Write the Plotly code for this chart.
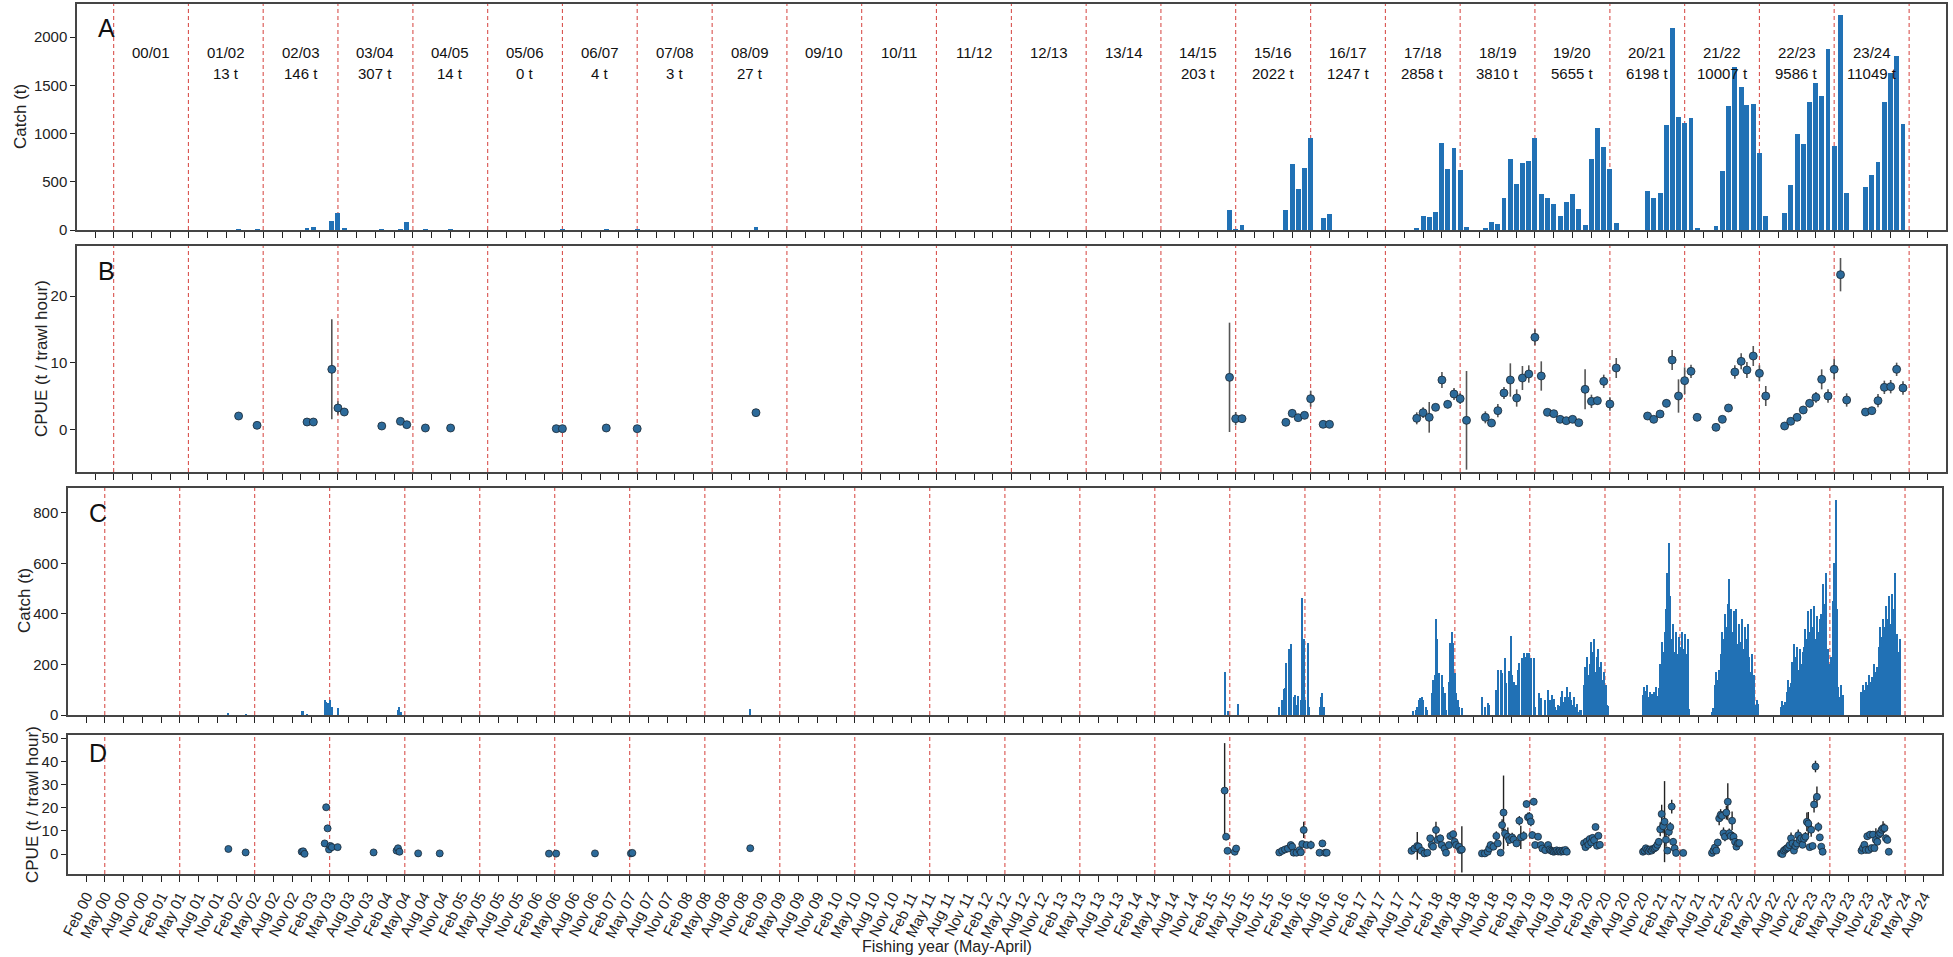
import plotly.graph_objects as go
import pandas as pd

# ---------------- Panel A: monthly catch (t) ----------------
a_month = ["2002-01-01", "2002-04-01", "2002-12-01", "2003-01-01", "2003-04-01", "2003-05-01",
           "2003-06-01", "2003-12-01", "2004-03-01", "2004-04-01", "2004-07-01", "2004-11-01",
           "2006-05-01", "2006-12-01", "2007-05-01", "2008-12-01",
           "2015-04-01", "2015-05-01", "2015-06-01",
           "2016-01-01", "2016-02-01", "2016-03-01", "2016-04-01", "2016-05-01", "2016-07-01", "2016-08-01",
           "2017-10-01", "2017-11-01", "2017-12-01", "2018-01-01", "2018-02-01", "2018-03-01", "2018-04-01",
           "2018-05-01", "2018-06-01", "2018-09-01", "2018-10-01", "2018-11-01", "2018-12-01",
           "2019-01-01", "2019-02-01", "2019-03-01", "2019-04-01", "2019-05-01", "2019-06-01",
           "2019-07-01", "2019-08-01", "2019-09-01", "2019-10-01", "2019-11-01", "2019-12-01",
           "2020-01-01", "2020-02-01", "2020-03-01", "2020-04-01", "2020-05-01", "2020-06-01",
           "2020-11-01", "2020-12-01", "2021-01-01", "2021-02-01", "2021-03-01", "2021-04-01",
           "2021-05-01", "2021-06-01", "2021-07-01", "2021-10-01", "2021-11-01", "2021-12-01",
           "2022-01-01", "2022-02-01", "2022-03-01", "2022-04-01", "2022-05-01", "2022-06-01",
           "2022-09-01", "2022-10-01", "2022-11-01", "2022-12-01", "2023-01-01", "2023-02-01",
           "2023-03-01", "2023-04-01", "2023-05-01", "2023-06-01", "2023-07-01", "2023-10-01",
           "2023-11-01", "2023-12-01", "2024-01-01", "2024-02-01", "2024-03-01", "2024-04-01"]
a_catch = [8, 5, 21, 31, 94, 180,
           22, 6, 10, 88, 8, 6,
           2, 2, 3, 27,
           204, 3, 48,
           211, 684, 421, 646, 953, 121, 166,
           21, 142, 131, 186, 901, 629, 846,
           625, 31, 17, 83, 66, 328,
           736, 480, 698, 718, 953, 373,
           335, 273, 145, 293, 373, 214,
           48, 735, 1053, 856, 635, 76,
           404, 332, 380, 1091, 2096, 1171,
           1108, 1164, 24, 38, 611, 1281,
           1692, 1478, 1292, 1305, 794, 145,
           176, 466, 991, 891, 1326, 1523,
           1388, 1875, 867, 2227, 387, 445,
           566, 704, 1326, 1627, 1806, 1101]

# fishing-year labels and totals
fy_start = list(range(2000, 2024))
fy_label = ["00/01", "01/02", "02/03", "03/04", "04/05", "05/06", "06/07", "07/08", "08/09", "09/10",
            "10/11", "11/12", "12/13", "13/14", "14/15", "15/16", "16/17", "17/18", "18/19", "19/20",
            "20/21", "21/22", "22/23", "23/24"]
fy_total = ["", "13 t", "146 t", "307 t", "14 t", "0 t", "4 t", "3 t", "27 t", "", "", "", "", "",
            "203 t", "2022 t", "1247 t", "2858 t", "3810 t", "5655 t", "6198 t", "10007 t", "9586 t", "11049 t"]

# ---------------- Panel B: monthly CPUE ----------------
b_month = ["2002-01-01", "2002-04-01", "2002-12-01", "2003-01-01", "2003-04-01", "2003-05-01",
           "2003-06-01", "2003-12-01", "2004-03-01", "2004-04-01", "2004-07-01", "2004-11-01",
           "2006-04-01", "2006-05-01", "2006-12-01", "2007-05-01", "2008-12-01",
           "2015-04-01", "2015-05-01", "2015-06-01",
           "2016-01-01", "2016-02-01", "2016-03-01", "2016-04-01", "2016-05-01", "2016-07-01", "2016-08-01",
           "2017-10-01", "2017-11-01", "2017-12-01", "2018-01-01", "2018-02-01", "2018-03-01", "2018-04-01",
           "2018-05-01", "2018-06-01", "2018-09-01", "2018-10-01", "2018-11-01", "2018-12-01",
           "2019-01-01", "2019-02-01", "2019-03-01", "2019-04-01", "2019-05-01", "2019-06-01",
           "2019-07-01", "2019-08-01", "2019-09-01", "2019-10-01", "2019-11-01", "2019-12-01",
           "2020-01-01", "2020-02-01", "2020-03-01", "2020-04-01", "2020-05-01", "2020-06-01",
           "2020-11-01", "2020-12-01", "2021-01-01", "2021-02-01", "2021-03-01", "2021-04-01",
           "2021-05-01", "2021-06-01", "2021-07-01", "2021-10-01", "2021-11-01", "2021-12-01",
           "2022-01-01", "2022-02-01", "2022-03-01", "2022-04-01", "2022-05-01", "2022-06-01",
           "2022-09-01", "2022-10-01", "2022-11-01", "2022-12-01", "2023-01-01", "2023-02-01",
           "2023-03-01", "2023-04-01", "2023-05-01", "2023-06-01", "2023-07-01", "2023-10-01",
           "2023-11-01", "2023-12-01", "2024-01-01", "2024-02-01", "2024-03-01", "2024-04-01"]
b_cpue = [2.0, 0.6, 1.1, 1.1, 9.0, 3.2,
          2.6, 0.5, 1.2, 0.7, 0.2, 0.2,
          0.1, 0.1, 0.2, 0.1, 2.5,
          7.8, 1.6, 1.6,
          1.05, 2.4, 1.75, 2.1, 4.6, 0.75, 0.75,
          1.65, 2.5, 1.8, 3.3, 7.4, 3.75, 5.3,
          4.6, 1.35, 1.8, 0.95, 2.8, 5.45,
          7.4, 4.7, 7.7, 8.3, 13.8, 8.0,
          2.55, 2.35, 1.5, 1.3, 1.5, 1.0,
          6.0, 4.2, 4.3, 7.2, 3.8, 9.2,
          2.0, 1.5, 2.3, 3.9, 10.4, 5.0,
          7.3, 8.7, 1.8, 0.3, 1.5, 3.2,
          8.6, 10.2, 8.9, 11.0, 8.4, 5.0,
          0.5, 1.2, 1.8, 2.9, 3.9, 4.8,
          7.5, 5.0, 9.0, 23.2, 4.4, 2.6,
          2.8, 4.3, 6.3, 6.4, 9.0, 6.2]
b_err = [0.2, 0.2, 0.2, 0.2, 7.5, 1.0,
         0.3, 0.2, 0.3, 0.3, 0.2, 0.2,
         0.1, 0.1, 0.1, 0.1, 0.3,
         8.2, 1.0, 0.3,
         0.3, 0.6, 0.3, 0.3, 1.2, 0.3, 0.3,
         0.9, 0.8, 2.3, 0.4, 1.2, 0.6, 0.9,
         0.8, 7.4, 0.9, 0.3, 1.0, 0.9,
         2.5, 1.3, 1.8, 1.3, 1.2, 2.2,
         0.4, 0.3, 0.3, 0.3, 0.3, 0.3,
         3.0, 1.0, 0.6, 1.0, 1.0, 1.5,
         0.4, 0.4, 0.4, 0.6, 1.5, 2.5,
         2.0, 1.0, 0.4, 0.3, 0.5, 0.6,
         1.0, 1.2, 1.2, 1.5, 1.2, 1.5,
         0.3, 0.4, 0.5, 0.6, 0.6, 0.8,
         1.5, 1.0, 1.5, 2.5, 1.0, 0.6,
         0.5, 1.0, 1.0, 1.0, 1.0, 1.0]

# ---------------- Panel C: weekly catch (t), per season ----------------
c_0102_start, c_0102 = "2001-12-24", [4, 0, 0, 0, 0, 0, 0, 0, 0, 0, 0, 0, 3]
c_0203a_start, c_0203a = "2002-12-16", [17, 17, 0, 0, 3]
c_0203b_start, c_0203b = "2003-04-07", [59, 53, 46, 10, 59, 30, 0, 0, 0, 26]
c_0304_start, c_0304 = "2004-03-29", [20, 30, 10]
c_0809_start, c_0809 = "2008-12-08", [25]
c_1415_start, c_1415 = "2015-04-06", [171, 0, 15, 0, 0, 0, 0, 0, 0, 42]
c_1516_start, c_1516 = "2015-12-28", [33, 0, 59, 104, 106, 206, 0, 260, 280, 0, 70, 80, 40, 76, 0, 60, 461, 300, 60, 0, 283, 30]
c_1617_start, c_1617 = "2016-07-11", [33, 72, 88, 33]
c_1718_start, c_1718 = "2017-10-09", [16, 0, 20, 33, 59, 66, 70, 59, 0, 33, 20, 0, 0, 86, 138, 158, 378, 299, 165, 0,
                                      158, 112, 86, 20, 0, 132, 286, 330, 283, 165, 86, 59, 33, 0, 26]
c_1819_start, c_1819 = "2018-09-10", [70, 0, 33, 0, 49, 40, 0, 0, 0, 0, 99, 178, 0, 178, 167, 0, 224, 125, 0, 175,
                                      312, 158, 129, 0, 119, 178, 207, 0, 224, 244, 231, 244, 0, 244, 224, 0, 224, 33,
                                      0, 0, 86, 66, 0, 0, 59, 0, 99]
c_1920_start, c_1920 = "2019-08-05", [60, 45, 80, 63, 30, 20, 40, 35, 70, 95, 50, 73, 110, 70, 90, 60, 40, 70, 30, 44,
                                      10, 20, 18, 0, 120, 190, 230, 160, 200, 290, 250, 300, 170, 230, 260, 190,
                                      210, 140, 170, 120, 40, 36]
c_2021_start, c_2021 = "2020-11-02", [80, 110, 95, 120, 70, 90, 85, 82, 90, 110, 75, 105, 200, 290, 250, 330,
                                      420, 560, 680, 470, 300, 360, 250, 330, 240, 310, 270, 330, 260, 320, 240, 300, 24]
c_2122_start, c_2122 = "2021-10-04", [10, 28, 120, 170, 140, 180, 240, 330, 300, 400, 350, 440, 540, 420, 330, 410,
                                      300, 420, 280, 360, 290, 380, 260, 350, 300, 360, 230, 170, 240, 160, 40, 60, 45]
c_2223_start, c_2223 = "2022-09-05", [30, 55, 40, 50, 90, 140, 110, 126, 210, 280, 230, 270, 180, 260, 200, 250,
                                      270, 340, 300, 410, 330, 420, 350, 430, 300, 390, 330, 380, 400, 520, 440, 560,
                                      180, 260, 200, 230, 450, 600, 850, 420, 110, 70, 120, 80]
c_2324_start, c_2324 = "2023-10-02", [90, 120, 100, 130, 120, 160, 130, 150, 150, 200, 170, 190, 270, 350, 310, 380,
                                      350, 430, 380, 470, 360, 480, 420, 560, 240, 320, 250, 300]

# ---------------- Panel D: weekly CPUE, per season ----------------
d_0102_start, d_0102 = "2001-12-24", [2.2, None, None, None, None, None, None, None, None, None, None, None, 0.7]
d_0203_start, d_0203 = "2002-12-16", [1.0, 1.2, 0.1]
d_0203b_start, d_0203b = "2003-04-07", [4.6, 20.2, 11.1, 2.0, 3.5, 3.0, None, None, None, 3.0]
d_0304_start, d_0304 = "2003-12-01", [0.7, None, None, None, None, None, None, None, None, None, None, None, None, None, None, None, 1.5, 2.5, 1.0]
d_0405_start, d_0405 = "2004-07-05", [0.3, None, None, None, None, None, None, None, None, None, None, None, None, None, None, 0.3]
d_0607_start, d_0607 = "2006-04-03", [0.2, None, None, None, None, 0.2, None, None, None, None, None, None, None, None, None, None,
                                      None, None, None, None, None, None, None, None, None, None, None, None, None, None, None, None, 0.3]
d_0708_start, d_0708 = "2007-05-07", [0.3, 0.5]
d_0809_start, d_0809 = "2008-12-08", [2.5]
d_1415_start, d_1415 = "2015-04-06", [27.4, 7.5, 1.4, None, None, None, None, 1.0, 2.4]
d_1415_err = [20.5, 0.5, 0.5, None, None, None, None, 0.5, 0.5]
d_1516_start, d_1516 = "2015-12-28", [0.7, None, 1.4, None, 2.0, None, 2.4, None, 3.9, 3.2, 0.6, None, 0.6, None, 1.7, 0.8,
                                      4.3, 10.4, None, 3.9, None, None, 3.9, None, None, None, None, None, 0.6, None, 4.6,
                                      None, 0.6, 0.6]
d_1516_err = [0.3, None, 0.3, None, 0.3, None, 0.3, None, 0.5, 0.5, 0.3, None, 0.3, None, 0.4, 0.3,
              0.5, 3.5, None, 0.6, None, None, 1.8, None, None, None, None, None, 0.3, None, 1.5, None, 0.3, 0.3]
d_1718_start, d_1718 = "2017-10-02", [1.4, None, 2.4, None, 3.5, 3.2, None, 1.4, None, 0.3, None, 0.6, None, 6.8, 3.9, 3.2,
                                      None, 10.4, 6.1, None, 6.8, 3.9, None, 2.4, 0.6, None, 3.9, 7.8, None, 8.6, 5.3, 3.9,
                                      None, 3.2, 1.7, 2.0]
d_1718_err = [0.5, None, 0.6, None, 6.0, 0.6, None, 0.5, None, 0.3, None, 0.3, None, 1.2, 0.6, 0.6,
              None, 3.5, 1.0, None, 1.5, 0.6, None, 0.5, 0.3, None, 0.8, 1.5, None, 1.5, 1.0, 0.8,
              None, 0.6, 0.5, 10.0]
d_1819_start, d_1819 = "2018-09-10", [0.3, None, 0.3, None, 1.0, 2.4, 3.9, None, 3.2, None, 7.8, 4.6, None, 0.6, 12.5, 17.9,
                                      8.9, None, 7.5, 6.1, None, 7.2, 6.3, None, 4.6, None, 14.4, 7.2, None, 7.8, None, 21.6,
                                      15.9, 16.1, 14.0, 8.2, 22.6, 3.9, None, 7.5, None, 3.9, 2.4, None, 1.7, None, 3.9]
d_1819_err = [0.3, None, 0.3, None, 0.5, 0.8, 1.5, None, 1.0, None, 2.0, 1.0, None, 0.4, 2.5, 16.0,
              2.0, None, 4.0, 1.5, None, 2.0, 1.5, None, 1.0, None, 2.0, 5.0, None, 2.0, None, 1.5,
              2.0, 2.0, 2.0, 1.5, 1.5, 0.6, None, 1.0, None, 0.8, 0.5, None, 0.4, None, 0.8]
d_1920_start, d_1920 = "2019-08-05", [2.0, 1.5, 1.2, 1.0, 1.3, 1.6, 1.1, 1.4, 1.0, 1.5, 1.2, 1.8, 1.0, None, None, None,
                                      None, None, None, None, None, None, None, None, 4.7, 3.0, 5.5, 4.0, 6.5, 5.0, 7.0, 6.0,
                                      11.7, 3.6, 7.9, 4.0]
d_1920_err = [0.4] * 36
d_2021_start, d_2021 = "2020-11-02", [1.0, 1.5, 2.5, 1.8, 1.2, 2.0, 1.5, 2.2, 2.5, 3.0, 4.0, 5.3, 10.7, 17.3, 12.0, 14.0,
                                      6.2, 1.5, 9.6, 11.7, 20.5, 5.3, 2.5, 0.5, None, None, None, None, 0.5]
d_2021_err = [0.4, 0.4, 0.5, 0.5, 0.4, 0.5, 0.4, 0.5, 0.5, 0.6, 0.8, 1.5, 3.0, 4.0, 3.0, 17.5,
              3.0, 1.0, 2.0, 2.0, 3.0, 1.5, 0.8, 0.3, None, None, None, None, 0.3]
d_2122_start, d_2122 = "2021-10-04", [0.5, 1.5, 2.8, 1.5, 5.0, 15.4, 16.9, 16.5, 9.0, 7.5, 17.9, 22.6, 9.0, 7.8, 14.4, 7.5,
                                      5.3, 3.2, 4.6, 4.8]
d_2122_err = [0.3, 0.4, 0.6, 0.5, 1.5, 3.0, 2.5, 2.0, 2.5, 2.0, 3.0, 8.0, 2.0, 2.0, 4.0, 2.0,
              1.5, 1.0, 1.5, 1.2]
d_2223_start, d_2223 = "2022-09-05", [0.3, 0.0, 1.5, 2.0, 2.5, 2.8, 3.9, 6.8, 4.6, 1.5, 3.5, 4.6, 8.1, 6.1, 6.8, 4.0,
                                      6.6, 7.5, 13.9, 13.2, 3.0, 10.5, 3.5, 21.4, 37.8, 24.7, 11.7, 7.2, 3.2, 1.0]
d_2223_err = [0.3, 0.3, 0.4, 0.5, 0.6, 0.6, 1.0, 2.5, 1.2, 0.6, 1.0, 1.2, 2.5, 1.5, 1.5, 1.0,
              1.5, 2.0, 4.0, 5.0, 1.0, 3.0, 1.0, 3.5, 2.5, 4.5, 2.0, 1.5, 1.0, 0.5]
d_2324_start, d_2324 = "2023-10-02", [1.5, 2.6, 4.0, 1.8, 7.7, 1.8, 8.4, 2.6, 8.4, 2.6, 6.1, 5.3, 8.4, 9.1, 10.5, 11.2,
                                      11.2, 6.8, 6.1, 1.0]
d_2324_err = [0.4, 0.5, 0.8, 0.5, 1.5, 0.5, 1.5, 0.6, 1.5, 0.6, 5.0, 1.2, 1.5, 1.5, 1.5, 3.0,
              2.0, 1.5, 1.2, 0.8]

c_seasons = [(c_0102_start, c_0102), (c_0203a_start, c_0203a), (c_0203b_start, c_0203b), (c_0304_start, c_0304),
             (c_0809_start, c_0809), (c_1415_start, c_1415), (c_1516_start, c_1516), (c_1617_start, c_1617),
             (c_1718_start, c_1718), (c_1819_start, c_1819), (c_1920_start, c_1920), (c_2021_start, c_2021),
             (c_2122_start, c_2122), (c_2223_start, c_2223), (c_2324_start, c_2324)]
d_seasons = [(d_0102_start, d_0102, None), (d_0203_start, d_0203, None), (d_0203b_start, d_0203b, None),
             (d_0304_start, d_0304, None), (d_0405_start, d_0405, None), (d_0607_start, d_0607, None),
             (d_0708_start, d_0708, None), (d_0809_start, d_0809, None),
             (d_1415_start, d_1415, d_1415_err), (d_1516_start, d_1516, d_1516_err),
             (d_1718_start, d_1718, d_1718_err), (d_1819_start, d_1819, d_1819_err),
             (d_1920_start, d_1920, d_1920_err), (d_2021_start, d_2021, d_2021_err),
             (d_2122_start, d_2122, d_2122_err), (d_2223_start, d_2223, d_2223_err),
             (d_2324_start, d_2324, d_2324_err)]

c_x, c_y = [], []
for start, vals in c_seasons:
    dates = pd.date_range(start, periods=len(vals), freq="7D")
    for d, v in zip(dates, vals):
        if v:
            c_x.append(d)
            c_y.append(v)

d_x, d_y, d_e = [], [], []
for start, vals, errs in d_seasons:
    dates = pd.date_range(start, periods=len(vals), freq="7D")
    for i, (d, v) in enumerate(zip(dates, vals)):
        if v is not None:
            d_x.append(d)
            d_y.append(v)
            e = errs[i] if errs is not None and errs[i] is not None else 0.3
            d_e.append(e)

# ---------------- Figure ----------------
W, H = 1953, 957
BLUE = "#2171b5"
PT = "#2c6a9a"
FONT = "Liberation Sans, Arial, sans-serif"

def px_x(p):
    return p / W

def px_y(p):
    return 1 - p / H

fig = go.Figure()

fig.add_trace(go.Bar(x=a_month, y=a_catch, marker=dict(color=BLUE, line=dict(width=0)),
                     width=24 * 86400000, xaxis="x", yaxis="y", showlegend=False))
fig.add_trace(go.Scatter(x=b_month, y=b_cpue, mode="markers",
                         marker=dict(size=8, color=PT, line=dict(color="#1c2833", width=0.8)),
                         error_y=dict(type="data", array=b_err, color="#555555", thickness=1.6, width=0),
                         xaxis="x2", yaxis="y2", showlegend=False))
fig.add_trace(go.Bar(x=c_x, y=c_y, marker=dict(color=BLUE, line=dict(width=0)),
                     width=5 * 86400000, xaxis="x3", yaxis="y3", showlegend=False))
fig.add_trace(go.Scatter(x=d_x, y=d_y, mode="markers",
                         marker=dict(size=7, color=PT, line=dict(color="#1c2833", width=0.8)),
                         error_y=dict(type="data", array=d_e, color="#222222", thickness=1.4, width=0),
                         xaxis="x4", yaxis="y4", showlegend=False))

tickdates = pd.date_range("2000-02-01", "2024-08-01", freq="3MS")
tickvals = [d.strftime("%Y-%m-%d") for d in tickdates]
ticktext = [d.strftime("%b %y") for d in tickdates]
xrange = ["1999-11-04", "2024-10-28"]

dom_ab = [px_x(77), px_x(1946)]
dom_cd = [px_x(68), px_x(1942)]
ydoms = {1: [px_y(230), px_y(4)], 2: [px_y(472), px_y(246)], 3: [px_y(715), px_y(488)], 4: [px_y(874), px_y(735)]}
yranges = {1: [0, 2342], 2: [-6.4, 27.5], 3: [0, 898], 4: [-8.6, 51.4]}
ytickv = {1: [0, 500, 1000, 1500, 2000], 2: [0, 10, 20], 3: [0, 200, 400, 600, 800], 4: [0, 10, 20, 30, 40, 50]}

axis_common = dict(showline=True, linecolor="#454545", linewidth=1.5, mirror=True, showgrid=False,
                   zeroline=False, ticks="outside", ticklen=6, tickwidth=1.2, tickcolor="#222222",
                   automargin=False,
                   tickfont=dict(family=FONT, size=15, color="#222222"))

layout = dict(width=W, height=H, margin=dict(l=0, r=0, t=0, b=0, autoexpand=False), plot_bgcolor="white",
              paper_bgcolor="white", bargap=0, showlegend=False)
for i in range(1, 5):
    sx = "" if i == 1 else str(i)
    layout["xaxis" + sx] = dict(axis_common, type="date", range=xrange, domain=dom_ab if i <= 2 else dom_cd,
                                anchor="y" + sx, tickmode="array", tickvals=tickvals, ticktext=ticktext,
                                showticklabels=(i == 4), tickangle=-63,
                                tickfont=dict(family=FONT, size=15, color="#222222"))
    layout["yaxis" + sx] = dict(axis_common, domain=ydoms[i], range=yranges[i], anchor="x" + sx,
                                tickmode="array", tickvals=ytickv[i], ticklen=5)
fig.update_layout(**layout)

# dashed fishing-year boundaries
shapes = []
for i in range(1, 5):
    sx = "" if i == 1 else str(i)
    for yr in range(2000, 2025):
        shapes.append(dict(type="line", xref="x" + sx, yref="y" + sx + " domain",
                           x0=f"{yr}-05-01", x1=f"{yr}-05-01", y0=0, y1=1, layer="below",
                           line=dict(color="#d9534f", width=1.1, dash="4px,3px")))
fig.update_layout(shapes=shapes)

ann = []
for yr, lab, tot in zip(fy_start, fy_label, fy_total):
    ann.append(dict(x=f"{yr}-10-31", y=0.832, xref="x", yref="y domain", text=lab, showarrow=False,
                    font=dict(family=FONT, size=15, color="#111111")))
    if tot:
        ann.append(dict(x=f"{yr}-10-31", y=0.739, xref="x", yref="y domain", text=tot, showarrow=False,
                        font=dict(family=FONT, size=15, color="#111111")))

for letter, lx, ly in [("A", 96, 12), ("B", 96, 255), ("C", 87, 497), ("D", 87, 737)]:
    ann.append(dict(x=px_x(lx), y=px_y(ly), xref="paper", yref="paper", text=letter, showarrow=False,
                    xanchor="left", yanchor="top", font=dict(family=FONT, size=25, color="#111111")))

for title, tx, ty in [("Catch (t)", 21, 117), ("CPUE (t / trawl hour)", 41, 359),
                      ("Catch (t)", 24, 601), ("CPUE (t / trawl hour)", 32, 805)]:
    ann.append(dict(x=px_x(tx), y=px_y(ty), xref="paper", yref="paper", text=title, showarrow=False,
                    textangle=-90, xanchor="center", yanchor="middle",
                    font=dict(family=FONT, size=17, color="#222222")))

ann.append(dict(x=px_x(947), y=px_y(946), xref="paper", yref="paper", text="Fishing year (May-April)",
                showarrow=False, xanchor="center", yanchor="middle", font=dict(family=FONT, size=16, color="#222222")))
fig.update_layout(annotations=ann)

fig.write_html("out.html")
